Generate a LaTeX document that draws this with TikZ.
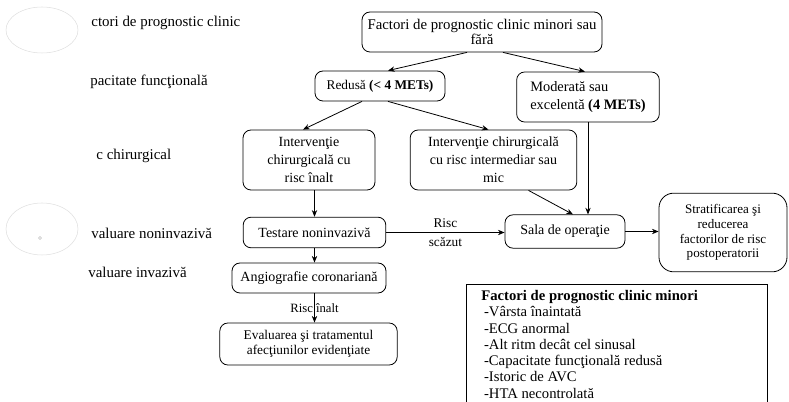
\documentclass[tikz,border=0pt]{standalone}
\usepackage{fontspec}
\setmainfont{Liberation Serif}
\usetikzlibrary{calc, arrows.meta}
\tikzset{>={Stealth[length=5pt, width=4pt]}}
\tikzset{box/.style={draw, rounded corners=6pt, align=center, inner sep=1pt, font=\fontsize{10.5}{12}\selectfont},
  side/.style={anchor=west, inner sep=0pt, font=\fontsize{11.2}{12}\selectfont},
  tag/.style={inner sep=1pt, font=\fontsize{10}{11.5}\selectfont}}

\begin{document}
\begin{tikzpicture}[x=0.75pt, y=-0.75pt, line width=0.6pt]
\useasboundingbox (0,0) rectangle (789,402);
\draw[gray!25, line width=0.4pt] (42,30) ellipse (36 and 23);
\draw[gray!25, line width=0.4pt] (42,229) ellipse (36 and 26);
\draw[gray!50, line width=0.3pt] (40,238) circle (1.5);
\node[side] (l1) at (91,23) {ctori de prognostic clinic};
\node[side] (l2) at (90,82) {pacitate funcţională};
\node[side] (l3) at (96,156) {c chirurgical};
\node[side] (l4) at (91,233) {valuare noninvazivă};
\node[side] (l5) at (88,272) {valuare invazivă};
\node[box, minimum width=180pt, minimum height=30pt, font=\fontsize{11.1}{11.5}\selectfont] (top) at (482,32) {Factori de prognostic clinic minori sau\\fără};
\node[box, minimum width=97.5pt, minimum height=22.5pt, font=\fontsize{10}{12}\selectfont] (redusa) at (380,86) {Redusă \textbf{(< 4 METs)}};
\node[box, minimum width=107pt, minimum height=37.5pt, align=left, font=\fontsize{10.8}{14}\selectfont] (moderata) at (588,97) {Moderată sau\\excelentă \textbf{(4 METs)}};
\node[box, minimum width=99pt, minimum height=45pt, font=\fontsize{10.5}{13.5}\selectfont] (inalt) at (309,160) {Intervenţie\\chirurgicală cu\\risc înalt};
\node[box, minimum width=125pt, minimum height=45pt, font=\fontsize{10.5}{13.5}\selectfont] (interm) at (493.5,160) {Intervenţie chirurgicală\\cu risc intermediar sau\\mic};
\node[box, minimum width=107pt, minimum height=23pt] (testare) at (314.5,232.5) {Testare noninvazivă};
\node[box, minimum width=90pt, minimum height=25pt] (sala) at (565,231.5) {Sala de operaţie};
\node[box, rounded corners=11pt, minimum width=96pt, minimum height=59pt, font=\fontsize{9.8}{11}\selectfont] (strat) at (723,232.5) {Stratificarea şi\\reducerea\\factorilor de risc\\postoperatorii};
\node[box, minimum width=115.5pt, minimum height=22.5pt] (angio) at (309,278) {Angiografie coronariană};
\node[box, minimum width=133pt, minimum height=31.5pt, font=\fontsize{10}{11.5}\selectfont] (evalu) at (308.5,344) {Evaluarea şi tratamentul\\afecţiunilor evidenţiate};
\node[draw, anchor=north west, minimum width=225.75pt, minimum height=100pt, inner sep=0pt] (legend) at (466,284) {};
\node[anchor=north west, align=left, inner sep=0pt, font=\fontsize{11}{12.2}\selectfont] (legtext) at ($(legend.north west)+(15,6)$) {\textbf{Factori de prognostic clinic minori}\\
\hspace{2pt}-Vârsta înaintată\\ \hspace{2pt}-ECG anormal\\ \hspace{2pt}-Alt ritm decât cel sinusal\\
\hspace{2pt}-Capacitate funcţională redusă\\ \hspace{2pt}-Istoric de AVC\\ \hspace{2pt}-HTA necontrolată};
\draw[->] ($(top.south)+(-15,0)$) -- ($(redusa.north)+(8,0)$);
\draw[->] ($(top.south)+(21,0)$) -- ($(moderata.north)+(-3,0)$);
\draw[->] ($(redusa.south)+(-18,0)$) -- ($(inalt.north)+(-6,0)$);
\draw[->] ($(redusa.south)+(8,0)$) -- ($(interm.north)+(-5,0)$);
\draw[->] (testare.north |- inalt.south) -- (testare.north);
\draw[->] ($(interm.south)+(35,0)$) -- ($(sala.north)+(8,0)$);
\draw[->] (moderata.south) -- (moderata.south |- sala.north);
\draw[->] (testare.east) -- node[tag, above=2pt] {Risc} node[tag, below=2pt] {scăzut} (testare.east -| sala.west);
\draw[->] (sala.east) -- (sala.east -| strat.west);
\draw[->] (testare.south) -- (testare.south |- angio.north);
\draw[->] (testare.south |- angio.south) -- node[tag, font=\fontsize{9.5}{11}\selectfont] {Risc înalt} (testare.south |- evalu.north);
\end{tikzpicture}
\end{document}
